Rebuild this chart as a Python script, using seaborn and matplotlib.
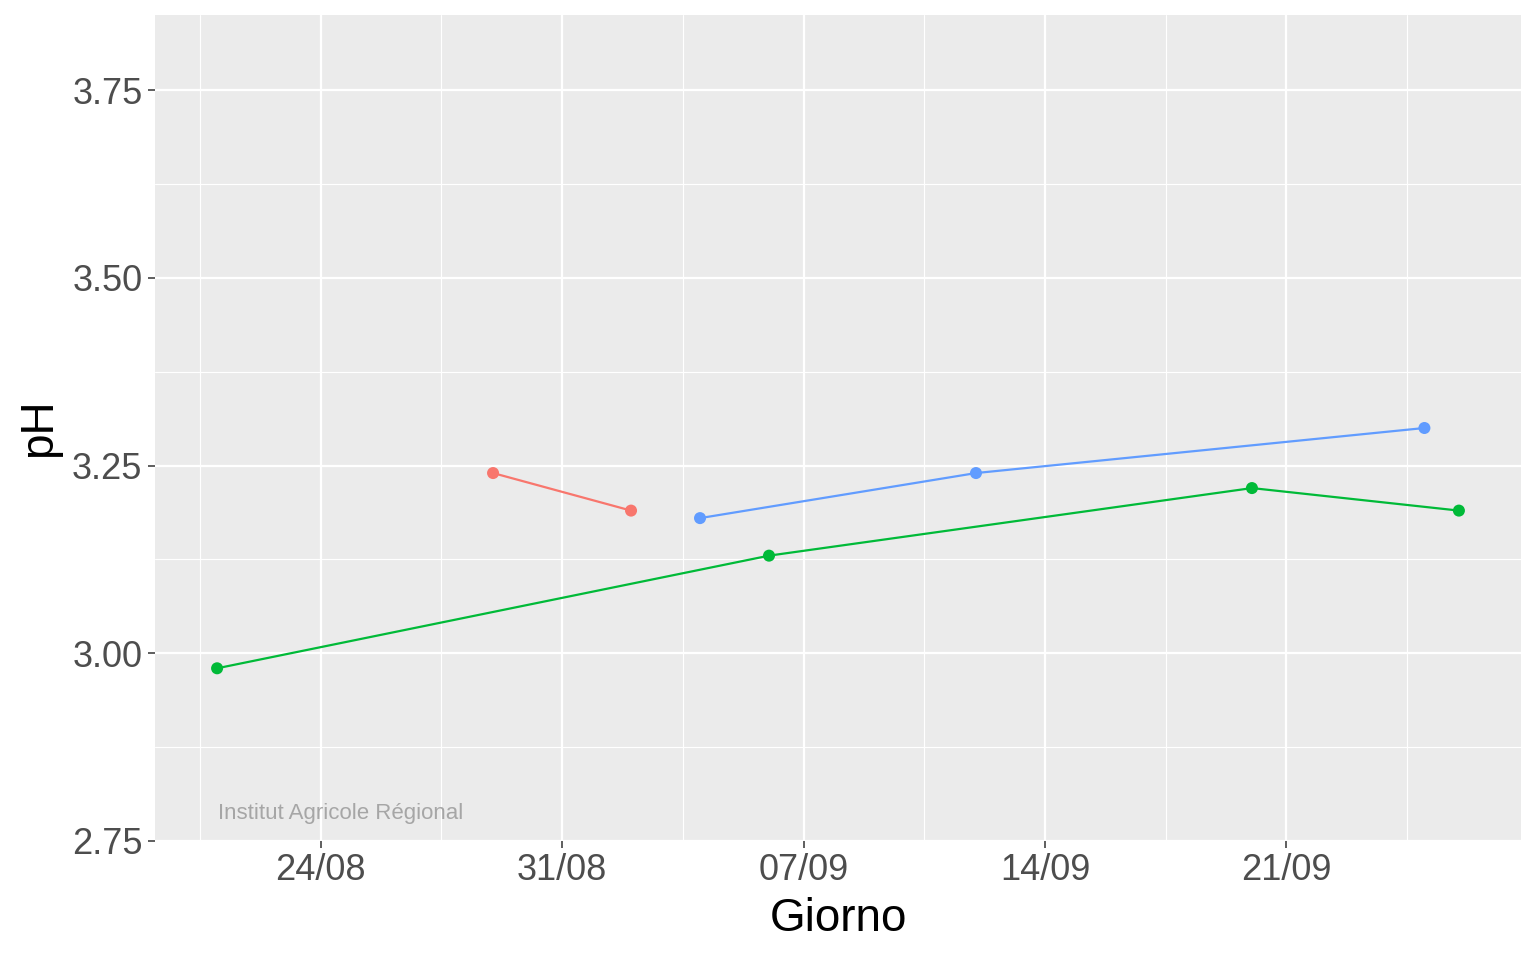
import pandas as pd
import matplotlib
matplotlib.use("Agg")
import matplotlib.pyplot as plt
import matplotlib.dates as mdates
import seaborn as sns

# Data
red_days = ["2023-08-29", "2023-09-02"]
red_ph = [3.24, 3.19]
green_days = ["2023-08-21", "2023-09-06", "2023-09-20", "2023-09-26"]
green_ph = [2.98, 3.13, 3.22, 3.19]
blue_days = ["2023-09-04", "2023-09-12", "2023-09-25"]
blue_ph = [3.18, 3.24, 3.30]

palette = {"A": "#F8766D", "B": "#00BA38", "C": "#619CFF"}

df = pd.concat([
    pd.DataFrame({"Giorno": pd.to_datetime(red_days), "pH": red_ph, "grp": "A"}),
    pd.DataFrame({"Giorno": pd.to_datetime(green_days), "pH": green_ph, "grp": "B"}),
    pd.DataFrame({"Giorno": pd.to_datetime(blue_days), "pH": blue_ph, "grp": "C"}),
])

sns.set_theme(style="darkgrid")
plt.rcParams["font.family"] = ["Liberation Sans", "DejaVu Sans"]

fig = plt.figure(figsize=(15.36, 9.6), dpi=100)
ax = fig.add_axes([155 / 1536, 1 - 841 / 960, (1521 - 155) / 1536, (841 - 15) / 960])
ax.set_facecolor("#EBEBEB")

sns.lineplot(data=df, x="Giorno", y="pH", hue="grp", palette=palette,
             linewidth=1.6, legend=False, ax=ax, sort=True)
sns.scatterplot(data=df, x="Giorno", y="pH", hue="grp", palette=palette,
                s=75, edgecolor="none", legend=False, ax=ax, zorder=3)

# x axis
start = pd.Timestamp("2023-08-21") - pd.Timedelta(days=1.8)
end = pd.Timestamp("2023-09-26") + pd.Timedelta(days=1.8)
ax.set_xlim(start, end)
major_x = pd.to_datetime(["2023-08-24", "2023-08-31", "2023-09-07", "2023-09-14", "2023-09-21"])
minor_x = pd.to_datetime(["2023-08-20 12:00", "2023-08-27 12:00", "2023-09-03 12:00",
                          "2023-09-10 12:00", "2023-09-17 12:00", "2023-09-24 12:00"])
ax.set_xticks(major_x)
ax.set_xticks(minor_x, minor=True)
ax.xaxis.set_major_formatter(mdates.DateFormatter("%d/%m"))

# y axis
ax.set_ylim(2.75, 3.85)
ax.set_yticks([2.75, 3.00, 3.25, 3.50, 3.75])
ax.set_yticks([2.875, 3.125, 3.375, 3.625], minor=True)
ax.set_yticklabels(["2.75", "3.00", "3.25", "3.50", "3.75"])

ax.grid(which="major", color="white", linewidth=1.6)
ax.grid(which="minor", color="white", linewidth=0.8)
ax.set_axisbelow(True)
for s in ax.spines.values():
    s.set_visible(False)

ax.tick_params(axis="both", which="major", length=5, width=1.1, color="#333333",
               labelsize=26, labelcolor="#4D4D4D", pad=4, bottom=True, left=True)
ax.tick_params(axis="both", which="minor", length=0)

ax.set_xlabel("Giorno", fontsize=33, color="black", labelpad=6)
ax.set_ylabel("pH", fontsize=33, color="black", labelpad=8)

ax.text(0.046, 0.02, "Institut Agricole Régional", transform=ax.transAxes,
        fontsize=16, color="#A6A6A6", ha="left", va="bottom")

fig.savefig("out.png", dpi=100)
